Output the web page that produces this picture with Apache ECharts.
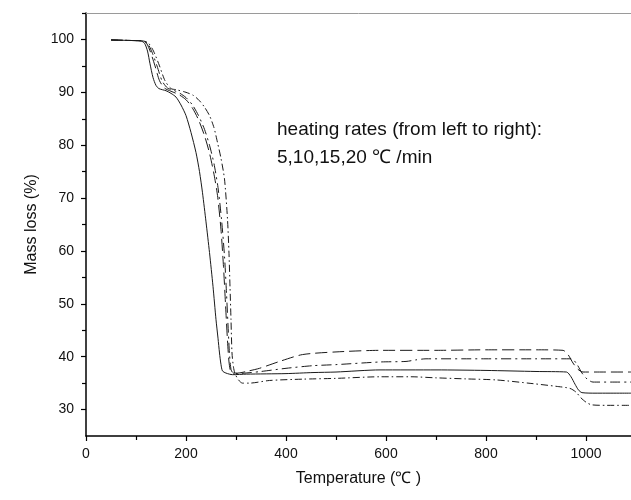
<!DOCTYPE html>
<html>
<head>
<meta charset="utf-8">
<script src="https://cdn.jsdelivr.net/npm/echarts@6/dist/echarts.min.js"></script>
<style>
html,body{margin:0;padding:0;background:#fff;}
#chart{width:631px;height:500px;}
</style>
</head>
<body>
<div id="chart"></div>
<script>
// Tick values
var xTickLabels = [0, 200, 400, 600, 800, 1000];
var xMinorTicks = [100, 300, 500, 700, 900];
var yTickLabels = [30, 40, 50, 60, 70, 80, 90, 100];
var yMinorTicks = [35, 45, 55, 65, 75, 85, 95, 105];

// Heating rate curves: [temperature (°C), mass (%)]
var rate5 = [[50,99.9],[90,99.8],[110,99.7],[117,99.3],[123,97.8],[128,95.4],[134,92.8],[140,91.3],[146,90.7],[160,90.3],[170,89.8],[180,89.1],[190,87.6],[200,85.6],[210,82.4],[220,78.6],[227,75],[233,71],[240,65.5],[247,59.7],[254,53.3],[260,47],[264,43.5],[267,40.7],[270,38.5],[273,37.3],[280,36.9],[293,36.6],[321,36.7],[400,36.8],[454,37.0],[500,37.1],[588,37.5],[700,37.5],[800,37.4],[900,37.2],[961,37.1],[970,36.2],[978,34.8],[985,33.7],[992,33.2],[1020,33.1],[1090,33.1]];
var rate10 = [[50,99.9],[90,99.8],[113,99.7],[121,99.3],[129,97.6],[138,95],[147,92.2],[157,90.8],[170,90.2],[185,89.6],[200,88.6],[213,87],[225,84.8],[237,81.8],[247,78.5],[256,74.5],[263,70.5],[270,64],[275,57],[279,50],[283,43],[286,39],[289,37.3],[293,36.9],[303,36.9],[325,37.3],[347,37.8],[387,39.1],[433,40.4],[500,40.9],[588,41.2],[700,41.2],[800,41.3],[900,41.3],[954,41.2],[964,40.4],[974,38.8],[984,37.6],[994,37.1],[1030,37.1],[1090,37.1]];
var rate15 = [[50,99.9],[90,99.8],[114,99.7],[123,99.3],[132,97.6],[142,95],[152,92.2],[163,90.8],[175,90.4],[188,89.8],[200,89.0],[213,87.6],[225,85.6],[237,83],[247,80],[256,76.5],[264,72],[271,66],[277,59],[281,52],[284,46],[287,40.5],[290,37.6],[294,36.9],[300,36.8],[330,37.0],[350,37.2],[400,37.8],[454,38.3],[500,38.5],[588,39.0],[640,39.1],[660,39.4],[680,39.6],[800,39.6],[900,39.6],[971,39.6],[981,38.7],[992,36.9],[1003,35.7],[1014,35.2],[1050,35.2],[1090,35.2]];
var rate20 = [[50,99.9],[90,99.8],[115,99.7],[125,99.3],[135,97.8],[147,95],[158,92.2],[170,90.7],[180,90.5],[200,90.0],[215,89.4],[227,88.4],[237,87.2],[247,85.6],[256,83.3],[263,80.5],[270,77.5],[277,73.6],[283,66],[286,59.5],[288,53.3],[290,47],[292,40.7],[295,38],[298,36.8],[305,35.6],[313,35.0],[327,35.0],[367,35.5],[433,35.75],[500,35.9],[588,36.2],[650,36.2],[700,36.0],[760,35.8],[821,35.6],[894,34.9],[940,34.4],[968,34.0],[980,33.3],[990,32.2],[1000,31.4],[1011,30.9],[1040,30.8],[1090,30.8]];

var FONT = '"Liberation Sans", Arial, sans-serif';
var chart = echarts.init(document.getElementById('chart'), null, {renderer:'canvas'});

function mkSeries(data, dash) {
  return {
    type: 'line', data: data, showSymbol: false, symbol: 'none',
    smooth: 0.25, clip: true, silent: true,
    lineStyle: { color: '#1a1a1a', width: 1, type: dash }
  };
}
function plain(v) { return String(v); }

chart.setOption({
  animation: false,
  backgroundColor: '#fff',
  grid: { left: 86, right: 0, top: 13, bottom: 64 },
  xAxis: [{
    type: 'value', min: 0, max: 1090,
    name: 'Temperature (\u2103 )', nameLocation: 'middle', nameGap: 35,
    nameTextStyle: { fontFamily: FONT, fontSize: 16, color: '#111' },
    axisLine: { show: true, onZero: false, lineStyle: { color: '#000', width: 1.5 } },
    axisTick: { show: true, length: 5, customValues: xTickLabels, lineStyle: { color: '#000', width: 1.2 } },
    axisLabel: { customValues: xTickLabels, formatter: plain, fontFamily: FONT, fontSize: 14, color: '#111', margin: 11 },
    splitLine: { show: false }
  }, {
    type: 'value', min: 0, max: 1090, position: 'bottom',
    axisLine: { show: false },
    axisTick: { show: true, length: 4, customValues: xMinorTicks, lineStyle: { color: '#000', width: 1.2 } },
    axisLabel: { show: false }, splitLine: { show: false }
  }, {
    type: 'value', min: 0, max: 1090, position: 'top',
    axisLine: { show: true, lineStyle: { color: '#9a9a9a', width: 1 } },
    axisTick: { show: false }, axisLabel: { show: false }, splitLine: { show: false }
  }],
  yAxis: [{
    type: 'value', min: 25, max: 105,
    name: 'Mass loss (%)', nameLocation: 'middle', nameGap: 46,
    nameTextStyle: { fontFamily: FONT, fontSize: 16, color: '#111' },
    axisLine: { show: true, onZero: false, lineStyle: { color: '#000', width: 1.5 } },
    axisTick: { show: true, length: 5, customValues: yTickLabels, lineStyle: { color: '#000', width: 1.2 } },
    axisLabel: { customValues: yTickLabels, formatter: plain, fontFamily: FONT, fontSize: 14, color: '#111', margin: 12 },
    splitLine: { show: false }
  }, {
    type: 'value', min: 25, max: 105, position: 'left',
    axisLine: { show: false },
    axisTick: { show: true, length: 4, customValues: yMinorTicks, lineStyle: { color: '#000', width: 1.2 } },
    axisLabel: { show: false }, splitLine: { show: false }
  }],
  graphic: [{
    type: 'text', left: 277, top: 116,
    style: { text: 'heating rates (from left to right):\n5,10,15,20 \u2103 /min', font: '19px ' + FONT, fill: '#111', lineHeight: 28 }
  }],
  series: [
    mkSeries(rate5, 'solid'),
    mkSeries(rate10, [12, 5]),
    mkSeries(rate15, [10, 4, 2, 4]),
    mkSeries(rate20, [7, 3, 1.5, 3])
  ]
});
</script>
</body>
</html>
